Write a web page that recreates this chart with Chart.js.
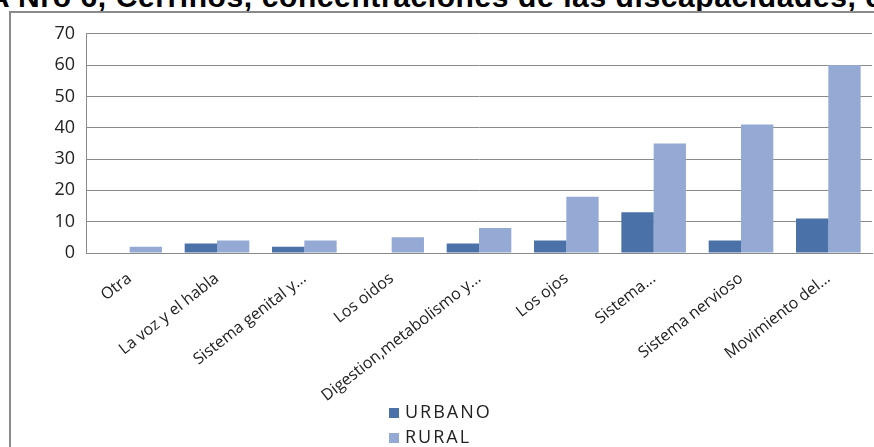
<!DOCTYPE html>
<html>
<head>
<meta charset="utf-8">
<script src="https://cdn.jsdelivr.net/npm/chart.js@4"></script>
<style>
  html, body { margin: 0; padding: 0; background: #fff; }
  body { width: 874px; height: 447px; position: relative; overflow: hidden; }
  #titulo {
    position: absolute; left: -12px; top: -20px; white-space: nowrap; line-height: 30px;
    font: bold 30px "Liberation Sans", Arial, sans-serif; color: #000; letter-spacing: 0.6px;
  }
  #marco {
    position: absolute; left: 9px; top: 11px; width: 880px; height: 450px;
    border-left: 2px solid #8a8a8a; border-top: 2px solid #8a8a8a;
  }
  #wrap { position: absolute; left: 10px; top: 12px; width: 864px; height: 435px; }
  #leyenda {
    position: absolute; left: 389px; top: 399px;
    font: 18px "Open Sans", sans-serif; color: #222; line-height: 25px; letter-spacing: 2px;
  }
  #leyenda span.box { display: inline-block; width: 10px; height: 10px; margin-right: 6px; }
</style>
</head>
<body>
<div id="titulo">A Nro 6, Cerrinos, concentraciones de las discapacidades, e</div>
<div id="marco"></div>
<div id="wrap"><canvas id="grafico"></canvas></div>
<div id="leyenda"></div>
<script>
const categorias = ['Otra', 'La voz y el habla', 'Sistema genital y...', 'Los oidos',
  'Digestion,metabolismo y...', 'Los ojos', 'Sistema...', 'Sistema nervioso', 'Movimiento del...'];
const urbano = [0, 3, 2, 0, 3, 4, 13, 4, 11];
const rural = [2, 4, 4, 5, 8, 18, 35, 41, 60];
const series = ['URBANO', 'RURAL'];
const colores = ['#4a72a8', '#94aad4'];
const ticksY = [0, 70, 10];

const datos = [urbano, rural];
const datasets = series.map((nombre, i) => ({
    label: nombre,
    data: datos[i],
    backgroundColor: colores[i],
    categoryPercentage: 0.74,
    barPercentage: 1
}));

new Chart(document.getElementById('grafico'), {
    type: 'bar',
    data: { labels: categorias, datasets },
    options: {
        responsive: true,
        maintainAspectRatio: false,
        animation: false,
        layout: { padding: { top: 19, right: 2, left: 0, bottom: 0 } },
        plugins: { legend: { display: false }, tooltip: { enabled: false } },
        scales: {
            x: {
                grid: { display: false },
                border: { color: '#8a8a8a', width: 1 },
                ticks: {
                    color: '#222', font: { family: 'Open Sans', size: 16 },
                    minRotation: 38, maxRotation: 38, padding: 8, autoSkip: false
                },
                afterFit: s => { s.height = 194; }
            },
            y: {
                min: ticksY[0], max: ticksY[1],
                grid: { color: '#8a8a8a', drawTicks: false },
                border: { color: '#8a8a8a', width: 1 },
                ticks: {
                    stepSize: ticksY[2], padding: 11,
                    color: '#222', font: { family: 'Open Sans', size: 18 }
                },
                afterFit: s => { s.width = 76; }
            }
        }
    }
});

// leyenda vertical, como en el original
document.getElementById('leyenda').innerHTML = series.map((nombre, i) =>
    `<div><span class="box" style="background:${colores[i]}"></span>${nombre}</div>`
).join('');
</script>
</body>
</html>
